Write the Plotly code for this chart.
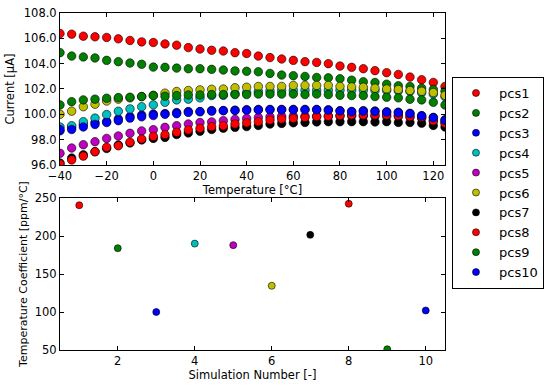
import plotly.graph_objects as go
from plotly.subplots import make_subplots

temps = list(range(-40, 130, 5))

pcs1 = [106.38, 106.33, 106.17, 106.12, 106.07, 105.96, 105.83, 105.72, 105.67, 105.56,
        105.46, 105.27, 105.16, 105.06, 105.0, 104.87, 104.8, 104.6, 104.48, 104.37,
        104.26, 104.16, 104.1, 104.0, 103.81, 103.71, 103.6, 103.45, 103.29, 103.15,
        102.94, 102.73, 102.52, 102.2]
pcs2 = [104.87, 104.6, 104.53, 104.45, 104.26, 104.16, 104.05, 103.95, 103.73, 103.71,
        103.65, 103.6, 103.6, 103.55, 103.5, 103.43, 103.4, 103.36, 103.23, 103.1,
        103.05, 102.99, 102.91, 102.88, 102.81, 102.7, 102.57, 102.52, 102.38, 102.25,
        102.2, 102.06, 101.96, 101.82]
pcs3 = [98.7, 98.97, 99.2, 99.35, 99.43, 99.64, 99.82, 99.95, 100.03, 100.06,
        100.14, 100.22, 100.22, 100.3, 100.3, 100.33, 100.37, 100.39, 100.39, 100.39,
        100.39, 100.39, 100.39, 100.36, 100.29, 100.23, 100.29, 100.26, 100.2, 100.17,
        100.08, 99.9, 99.76, 99.57]
pcs4 = [99.0, 99.1, 99.42, 99.7, 99.98, 100.24, 100.43, 100.6, 100.75, 100.95,
        101.14, 101.2, 101.3, 101.48, 101.5, 101.62, 101.72, 101.8, 101.85, 101.88,
        101.9, 101.9, 101.9, 101.9, 101.9, 101.9, 101.9, 101.88, 101.88, 101.85,
        101.8, 101.7, 101.6, 101.4]
pcs5 = [96.92, 97.34, 97.6, 97.84, 98.1, 98.29, 98.5, 98.69, 98.79, 98.97,
        99.1, 99.24, 99.35, 99.4, 99.5, 99.6, 99.68, 99.75, 99.8, 99.84,
        99.84, 99.85, 99.85, 99.86, 99.86, 99.86, 99.86, 99.85, 99.84, 99.82,
        99.78, 99.7, 99.45, 99.32]
pcs6 = [100.0, 100.25, 100.6, 100.8, 101.05, 101.2, 101.3, 101.4, 101.5, 101.67,
        101.8, 101.88, 101.93, 101.98, 102.0, 102.1, 102.14, 102.2, 102.2, 102.2,
        102.28, 102.28, 102.28, 102.28, 102.2, 102.16, 102.14, 102.06, 102.0, 101.96,
        101.88, 101.82, 101.72, 101.5]
pcs7 = [96.15, 96.55, 96.8, 97.05, 97.3, 97.58, 97.74, 97.98, 98.1, 98.18,
        98.4, 98.53, 98.66, 98.8, 98.9, 98.97, 99.03, 99.12, 99.23, 99.28,
        99.33, 99.36, 99.4, 99.42, 99.42, 99.42, 99.42, 99.4, 99.42, 99.36,
        99.36, 99.3, 99.12, 99.0]
pcs8 = [96.07, 96.4, 96.7, 97.05, 97.4, 97.52, 97.8, 98.05, 98.26, 98.4,
        98.58, 98.77, 98.9, 99.03, 99.1, 99.24, 99.33, 99.42, 99.55, 99.63,
        99.68, 99.76, 99.82, 99.84, 99.9, 99.95, 99.95, 99.95, 99.95, 99.9,
        99.82, 99.76, 99.5, 99.3]
pcs9 = [100.74, 101.0, 101.14, 101.2, 101.27, 101.32, 101.35, 101.4, 101.48, 101.43,
        101.48, 101.53, 101.53, 101.56, 101.56, 101.56, 101.56, 101.6, 101.6, 101.6,
        101.6, 101.56, 101.6, 101.56, 101.5, 101.48, 101.48, 101.4, 101.35, 101.3,
        101.19, 101.14, 100.95, 100.74]
pcs10 = [98.8, 98.8, 99.0, 99.2, 99.35, 99.5, 99.7, 99.8, 99.9, 100.0,
         100.05, 100.15, 100.2, 100.25, 100.28, 100.3, 100.33, 100.35, 100.36, 100.36,
         100.36, 100.36, 100.36, 100.33, 100.27, 100.2, 100.25, 100.22, 100.17, 100.12,
         100.04, 99.86, 99.72, 99.53]

names = ["pcs1", "pcs2", "pcs3", "pcs4", "pcs5", "pcs6", "pcs7", "pcs8", "pcs9", "pcs10"]
colors = ["#FF0000", "#008000", "#0000FF", "#00BFBF", "#BF00BF",
          "#BFBF00", "#000000", "#FF0000", "#008000", "#0000FF"]
series = [pcs1, pcs2, pcs3, pcs4, pcs5, pcs6, pcs7, pcs8, pcs9, pcs10]

sim_numbers = [1, 2, 3, 4, 5, 6, 7, 8, 9, 10]
temp_coeff = [240.5, 184, 100, 190, 188, 134.5, 201.5, 242.5, 51, 102]

FONT = "DejaVu Sans"
fig = make_subplots(rows=2, cols=1, vertical_spacing=0.098)

for name, col, vals in zip(names, colors, series):
    fig.add_trace(go.Scatter(
        x=temps, y=vals, mode="markers", name=name, legendgroup=name, showlegend=False,
        marker=dict(size=8.5, color=col, line=dict(color="#000000", width=0.6)),
    ), row=1, col=1)

for n, col, tc, name in zip(sim_numbers, colors, temp_coeff, names):
    fig.add_trace(go.Scatter(
        x=[n], y=[tc], mode="markers", name=name, legendgroup=name, showlegend=True,
        marker=dict(size=7, color=col, line=dict(color="#000000", width=0.6)),
    ), row=2, col=1)

tfont = dict(family=FONT, size=11.5, color="#000000")
axis_common = dict(showline=True, linecolor="#000000", linewidth=1, mirror="ticks",
                   ticks="inside", ticklen=4, tickcolor="#000000", showgrid=False,
                   zeroline=False, automargin=False, tickfont=tfont)

XDOM = [0, 0.7938]
fig.update_xaxes(range=[-40, 125], tickvals=[-40, -20, 0, 20, 40, 60, 80, 100, 120],
                 ticktext=["\u221240", "\u221220", "0", "20", "40", "60", "80", "100", "120"],
                 title=dict(text="Temperature [\u00b0C]", standoff=2, font=tfont),
                 domain=XDOM, **axis_common, row=1, col=1)
fig.update_yaxes(range=[96, 108], tickvals=[96, 98, 100, 102, 104, 106, 108], tickformat=".1f",
                 title=dict(text="Current [\u00b5A]", standoff=6, font=tfont),
                 **axis_common, row=1, col=1)
fig.update_xaxes(range=[0.5, 10.5], tickvals=[2, 4, 6, 8, 10],
                 title=dict(text="Simulation Number [-]", standoff=4, font=tfont),
                 domain=XDOM, **axis_common, row=2, col=1)
fig.update_yaxes(range=[50, 250], tickvals=[50, 100, 150, 200, 250],
                 title=dict(text="Temperature Coefficient [ppm/\u00b0C]", standoff=4,
                            font=dict(family=FONT, size=11, color="#000000")),
                 **axis_common, row=2, col=1)

fig.update_layout(
    width=550, height=388,
    margin=dict(l=60, r=5, t=13, b=38),
    paper_bgcolor="#FFFFFF", plot_bgcolor="#FFFFFF",
    font=dict(family=FONT, size=11.5, color="#000000"),
    legend=dict(x=0.8082, y=0.81, xanchor="left", yanchor="top",
                bordercolor="#000000", borderwidth=1, bgcolor="#FFFFFF",
                font=dict(family=FONT, size=13, color="#000000"),
                itemsizing="trace", itemwidth=36, tracegroupgap=0),
    showlegend=True,
)

fig.write_html("out.html", config={"displayModeBar": False},
               post_script="document.body.style.margin='0px';")
